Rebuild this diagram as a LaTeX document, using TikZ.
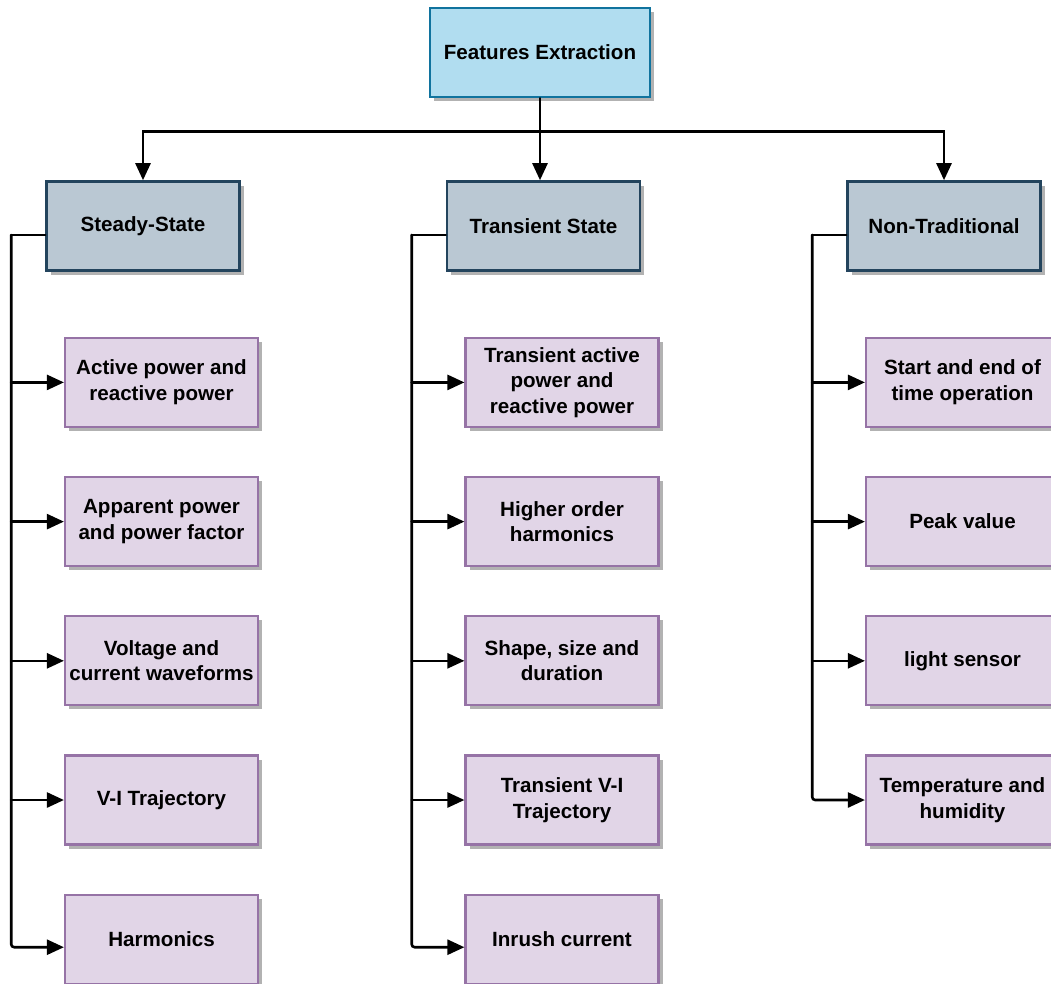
\documentclass[tikz,border=0pt]{standalone}
\usepackage{fontspec}
\setmainfont{Liberation Sans}
\usetikzlibrary{positioning,arrows.meta,shadows}
\definecolor{topfill}{HTML}{B1DDF0}
\definecolor{topline}{HTML}{10739E}
\definecolor{headfill}{HTML}{BAC8D3}
\definecolor{headline}{HTML}{23445D}
\definecolor{leaffill}{HTML}{E1D5E7}
\definecolor{leafline}{HTML}{9673A6}

\begin{document}
\begin{tikzpicture}[x=1pt,y=1pt,
  box/.style={rectangle, line width=2.6pt, align=center, inner sep=2pt,
    minimum width=193pt, minimum height=89pt,
    font=\fontsize{20.6}{25.5}\selectfont\bfseries,
    drop shadow={shadow xshift=4pt, shadow yshift=-4pt, fill=black!30, opacity=1}},
  topbox/.style={box, draw=topline, fill=topfill, minimum width=220pt},
  headbox/.style={box, draw=headline, fill=headfill},
  leafbox/.style={box, draw=leafline, fill=leaffill, line width=2.2pt},
  link/.style={line width=2.6pt, line cap=round},
  arr/.style={link, -{Triangle[length=17pt,width=15pt]}}]
\useasboundingbox (0,0) rectangle (1051,-983);
\clip (0,0) rectangle (1051,-983);

% root and the three groups
\node[topbox] (fe) at (540,-52.5) {Features Extraction};
\node[headbox] (ss) at (143,-226) {Steady-State};
\node[headbox] (ts) at (543.5,-226) {Transient State};
\node[headbox] (nt) at (944,-226) {Non-Traditional};

% steady-state features
\node[leafbox, below=65pt of ss, xshift=18.5pt] (ss1) {Active power and\\reactive power};
\node[leafbox, below=48pt of ss1] (ss2) {Apparent power\\and power factor};
\node[leafbox, below=48pt of ss2] (ss3) {Voltage and\\current waveforms};
\node[leafbox, below=48pt of ss3] (ss4) {V-I Trajectory};
\node[leafbox, below=48pt of ss4] (ss5) {Harmonics};

% transient features
\node[leafbox, below=65pt of ts, xshift=18.5pt] (ts1) {Transient active\\power and\\reactive power};
\node[leafbox, below=48pt of ts1] (ts2) {Higher order\\harmonics};
\node[leafbox, below=48pt of ts2] (ts3) {Shape, size and\\duration};
\node[leafbox, below=48pt of ts3] (ts4) {Transient V-I\\Trajectory};
\node[leafbox, below=48pt of ts4] (ts5) {Inrush current};

% non-traditional features
\node[leafbox, below=65pt of nt, xshift=18.5pt] (nt1) {Start and end of\\time operation};
\node[leafbox, below=48pt of nt1] (nt2) {Peak value};
\node[leafbox, below=48pt of nt2] (nt3) {light sensor};
\node[leafbox, below=48pt of nt3] (nt4) {Temperature and\\humidity};

% root to groups
\coordinate (split) at ([yshift=-33pt]fe.south);
\draw[link] (fe.south) -- (split);
\draw[arr] (split) -| (ss.north);
\draw[arr] (split) -| (nt.north);
\draw[arr] (split) -- (split |- ts.north);

% trunks
\coordinate (ssT) at ([xshift=-34pt,yshift=-9pt]ss.west);
\coordinate (tsT) at ([xshift=-34pt,yshift=-9pt]ts.west);
\coordinate (ntT) at ([xshift=-34pt,yshift=-9pt]nt.west);
\draw[link] ([yshift=-9pt]ss.west) -- (ssT);
\draw[link] ([yshift=-9pt]ts.west) -- (tsT);
\draw[link] ([yshift=-9pt]nt.west) -- (ntT);
\draw[arr, rounded corners=3pt] (ssT) |- ([yshift=-8pt]ss5.west);
\draw[arr, rounded corners=3pt] (tsT) |- ([yshift=-8pt]ts5.west);
\draw[arr, rounded corners=3pt] (ntT) |- (nt4.west);
\foreach \i in {1,...,4} {
  \draw[arr] (ssT |- ss\i.west) -- (ss\i.west);
  \draw[arr] (tsT |- ts\i.west) -- (ts\i.west);
}
\foreach \i in {1,...,3} {
  \draw[arr] (ntT |- nt\i.west) -- (nt\i.west);
}
\end{tikzpicture}
\end{document}
